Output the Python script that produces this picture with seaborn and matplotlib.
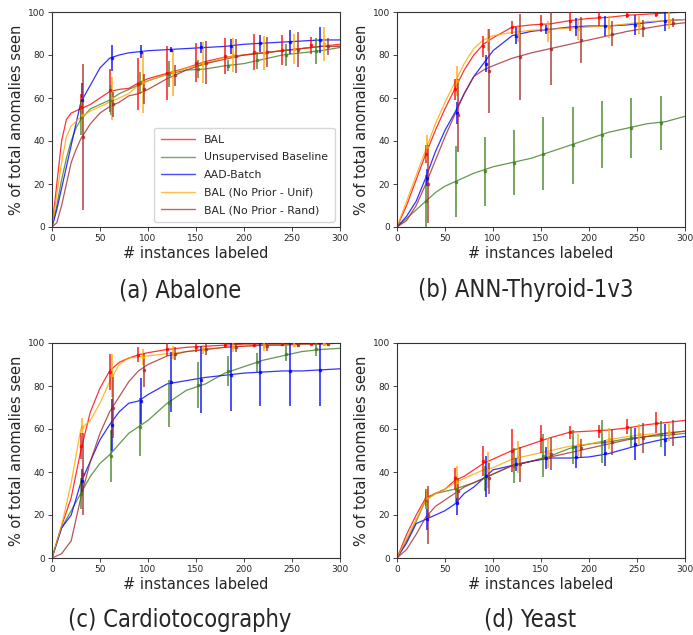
import numpy as np
import pandas as pd
import matplotlib
matplotlib.use("Agg")
import matplotlib.pyplot as plt
import seaborn as sns
from matplotlib.lines import Line2D

# ---------------- data ----------------
series_names = ["BAL", "Unsupervised Baseline", "AAD-Batch",
                "BAL (No Prior - Unif)", "BAL (No Prior - Rand)"]
series_colors = ["red", "#3f7f1f", "blue", "orange", "brown"]
panel_titles = ["(a) Abalone", "(b) ANN-Thyroid-1v3",
                "(c) Cardiotocography", "(d) Yeast"]

x_ticks = [0, 50, 100, 150, 200, 250, 300]
y_ticks = [0, 20, 40, 60, 80, 100]

# x grid of the mean curves
x_a = [0, 5, 10, 15, 20, 25, 30, 40, 50, 60, 70, 80, 90, 100, 120, 140, 160, 180, 200, 220, 240, 260, 280, 300]
x_bcd = [0, 10, 20, 30, 40, 50, 60, 70, 80, 90, 100, 120, 140, 160, 180, 200, 220, 240, 260, 280, 300]

# error bar positions (labels) per series
eb_x_bal = [30, 60, 90, 120, 150, 180, 210, 240, 270]
eb_x_unsup = [30.5, 61, 91.5, 122, 152.5, 183, 213.5, 244, 274.5]
eb_x_aad = [31, 62, 93, 124, 155, 186, 217, 248, 279]
eb_x_unif = [31.5, 63, 94.5, 126, 157.5, 189, 220.5, 252, 283.5]
eb_x_rand = [32, 64, 96, 128, 160, 192, 224, 256, 288]

# (a) Abalone
a_bal = [0, 20, 40, 50, 53, 54, 55, 57, 60, 63, 64, 64.5, 67, 69, 71.5, 74, 77, 79, 80, 81, 82, 83, 84, 85]
a_unsup = [0, 10, 22, 32, 40, 46, 50, 55, 57, 59, 62, 64, 66, 68, 71, 73, 73.5, 75, 76, 78, 80, 81, 82, 83.5]
a_aad = [0, 8, 18, 28, 38, 48, 58, 66, 74, 78.5, 80, 81, 81.5, 82, 82.5, 83, 83.5, 84, 85, 85.5, 86, 86.5, 87, 87]
a_unif = [0, 15, 30, 42, 47, 49, 51, 54, 56, 58, 60, 62, 66, 68, 71, 74, 76, 79, 80, 81, 82, 83, 84, 84.5]
a_rand = [0, 2, 10, 20, 30, 36, 41, 48, 53, 56, 58, 61, 62, 64, 69, 73, 76, 78, 80, 81, 82, 83, 84, 84]
a_eb_bal = [56, 63.5, 66.5, 71.5, 76.5, 79.5, 81.5, 82.5, 84.5]
a_eh_bal = [6, 10, 12, 12.5, 9, 8.5, 8.5, 7, 4]
a_eb_unsup = [51, 59, 67, 71, 73.5, 75, 77.5, 80, 82]
a_eh_unsup = [8, 7, 5, 6, 4, 2.5, 4, 5, 6]
a_eb_aad = [59, 78.5, 81.5, 82.5, 83.5, 84, 85.5, 86, 87]
a_eh_aad = [8, 6, 3, 1, 2.5, 3.5, 4, 5.5, 6]
a_eb_unif = [52, 60, 67.5, 72, 76.5, 80, 81, 83, 85]
a_eh_unif = [8, 10, 14.5, 11, 9.5, 8, 8, 7, 8]
a_eb_rand = [42, 57, 64, 70.5, 76.5, 79.5, 81.5, 82.5, 84]
a_eh_rand = [34, 6, 7, 5, 10, 8, 7, 8, 4]

# (b) ANN-Thyroid-1v3
b_bal = [0, 10, 22, 34, 45, 55, 64, 73, 80, 85, 88, 93, 94, 94.5, 96, 97, 97.5, 98.5, 99, 99.5, 100]
b_unsup = [0, 4, 8, 12, 16, 19, 21, 23, 25, 26.5, 28, 30, 32, 35, 38, 41, 44, 46, 48, 49, 51.5]
b_aad = [0, 5, 12, 23, 35, 45, 53, 62, 70, 76, 82, 89, 91, 92, 93, 93.5, 93.5, 94, 95, 96, 96.5]
b_unif = [0, 12, 24, 36, 48, 58, 67, 76, 83, 87, 89, 90.5, 91.5, 92, 92.5, 93, 93.5, 94.5, 95.5, 96, 96.5]
b_rand = [0, 3, 10, 20, 31, 42, 52, 62, 70, 73, 75, 78.5, 81, 83, 85, 87, 89, 91, 92.5, 94, 95]
b_eb_bal = [34, 64, 84, 93, 94.5, 96, 97.5, 98.5, 99]
b_eh_bal = [4, 5, 5, 3, 4, 5, 4, 1.5, 1.5]
b_eb_unsup = [12, 21, 26, 30, 34, 38, 43, 46, 48.5]
b_eh_unsup = [12, 16.5, 16, 15, 17, 18, 15.5, 14, 12.5]
b_eb_aad = [23, 53, 76, 89, 92, 93, 93.5, 94, 96]
b_eh_aad = [4, 5, 4, 4, 2, 4, 4.5, 4.5, 5]
b_eb_unif = [37, 68, 87, 90, 91, 92, 93, 94, 96]
b_eh_unif = [6, 7, 5, 4, 5, 5, 5, 4, 4]
b_eb_rand = [20, 52, 72.5, 79, 83, 87, 90, 92.5, 95]
b_eh_rand = [18, 17, 19.5, 20, 17, 10.5, 6, 4, 2]

# (c) Cardiotocography
c_bal = [0, 15, 28, 50, 68, 79, 87, 91, 93, 94.5, 95.5, 97, 98, 98.5, 99, 99.5, 99.5, 99.5, 100, 100, 100]
c_unsup = [0, 14, 22, 30, 38, 44, 48, 53, 58, 61, 64, 72, 78, 81, 86, 89, 92, 94, 96, 97, 97.5]
c_aad = [0, 14, 20, 35, 45, 55, 62, 68, 72, 73, 76, 81, 82.5, 84, 85, 86, 86.5, 87, 87, 87.5, 88]
c_unif = [0, 15, 35, 60, 64, 72, 82, 90, 93, 93.5, 94, 95, 96, 97, 98, 98.5, 99, 99, 99.5, 99.5, 100]
c_rand = [0, 2, 8, 28, 45, 58, 68, 75, 82, 87, 90, 94, 96, 97, 98, 98.5, 99, 99, 99.5, 99.5, 100]
c_eb_bal = [52, 86.5, 94.5, 97, 98, 99, 99, 99.5, 99.5]
c_eh_bal = [6, 8.5, 3.5, 3, 2, 1.5, 1, 1, 0.5]
c_eb_unsup = [30, 47.5, 61, 72, 80.5, 87, 91, 95, 97]
c_eh_unsup = [7, 12, 13.5, 11, 10.5, 7, 4.5, 3.5, 3]
c_eb_aad = [36, 62, 73, 82, 83, 85, 86.5, 87, 87.5]
c_eh_aad = [5.5, 12, 10.5, 14, 15.5, 16.5, 16, 16.5, 17]
c_eb_unif = [61, 85, 93.5, 95.5, 97, 98, 98.5, 99, 99.5]
c_eh_unif = [4, 10, 3.5, 3, 2, 2, 2, 1, 1]
c_eb_rand = [39, 70, 87.5, 95, 97, 98, 98.5, 99, 99.5]
c_eh_rand = [19, 14, 8, 3, 2.5, 2, 2, 1, 1]

# (d) Yeast
d_bal = [0, 11, 20, 28, 30, 32, 36, 38, 41, 44, 46, 50, 53, 56, 58.5, 59, 59.5, 60.5, 62, 63, 64]
d_unsup = [0, 8, 17, 27, 30, 31, 32, 33.5, 35, 37, 39, 43, 45, 47.5, 51, 53, 54, 55.5, 56.5, 57, 58]
d_aad = [0, 7, 16, 18, 20, 22, 25, 30, 33, 37, 41, 43, 45, 46.5, 46.5, 47, 48.5, 51, 53.5, 55.5, 56.5]
d_unif = [0, 9, 18, 27, 30, 32, 35, 37, 39, 41, 42, 46, 48, 50, 52, 53, 55, 56.5, 57.5, 58, 59]
d_rand = [0, 4, 11, 19, 24, 27, 30, 33, 35, 37, 39, 43, 45, 47, 49, 51, 53, 55, 56.5, 58, 59]
d_eb_bal = [28, 37, 45, 50, 55.5, 58.5, 59, 61, 63]
d_eh_bal = [4, 5, 7, 10, 6.5, 3, 3, 3.5, 5]
d_eb_unsup = [27, 32, 37, 43, 47.5, 51.5, 54, 56, 57.5]
d_eh_unsup = [4, 6, 6, 8, 10, 8, 10, 5, 6]
d_eb_aad = [18, 25.5, 38, 43.5, 46.5, 47, 49, 53, 55]
d_eh_aad = [5, 5.5, 9.5, 3, 5, 5, 6, 7.5, 7.5]
d_eb_unif = [28, 35.5, 41, 47, 49, 52.5, 55.5, 57.5, 58.5]
d_eh_unif = [4, 7.5, 8.5, 7.5, 7, 5, 5, 5, 4]
d_eb_rand = [20, 31, 37, 43.5, 48.5, 51, 54, 56, 58]
d_eh_rand = [13.5, 6, 7, 8, 7.5, 4.5, 6, 7, 6]

eb_x_all = [eb_x_bal, eb_x_unsup, eb_x_aad, eb_x_unif, eb_x_rand]

panels = [
    (x_a, [a_bal, a_unsup, a_aad, a_unif, a_rand],
     [a_eb_bal, a_eb_unsup, a_eb_aad, a_eb_unif, a_eb_rand],
     [a_eh_bal, a_eh_unsup, a_eh_aad, a_eh_unif, a_eh_rand]),
    (x_bcd, [b_bal, b_unsup, b_aad, b_unif, b_rand],
     [b_eb_bal, b_eb_unsup, b_eb_aad, b_eb_unif, b_eb_rand],
     [b_eh_bal, b_eh_unsup, b_eh_aad, b_eh_unif, b_eh_rand]),
    (x_bcd, [c_bal, c_unsup, c_aad, c_unif, c_rand],
     [c_eb_bal, c_eb_unsup, c_eb_aad, c_eb_unif, c_eb_rand],
     [c_eh_bal, c_eh_unsup, c_eh_aad, c_eh_unif, c_eh_rand]),
    (x_bcd, [d_bal, d_unsup, d_aad, d_unif, d_rand],
     [d_eb_bal, d_eb_unsup, d_eb_aad, d_eb_unif, d_eb_rand],
     [d_eh_bal, d_eh_unsup, d_eh_aad, d_eh_unif, d_eh_rand]),
]

# ---------------- plotting ----------------
sns.set_style("ticks")
plt.rcParams["font.family"] = ["DejaVu Sans"]

fig = plt.figure(figsize=(6.93, 6.35), dpi=100)
W, H = 693, 635
ax_px = [(52, 12), (397, 12), (52, 343), (397, 343)]  # left, top in pixels
aw, ah = 288, 215
cap_pos = [(180, 290), (526, 290), (180, 620), (530, 620)]

for i, (xg, curves, ebm, ebh) in enumerate(panels):
    l, t = ax_px[i]
    ax = fig.add_axes([l / W, 1 - (t + ah) / H, aw / W, ah / H])
    rows = []
    for name, ys in zip(series_names, curves):
        for xv, yv in zip(xg, ys):
            rows.append({"x": xv, "y": yv, "series": name})
    df = pd.DataFrame(rows)
    sns.lineplot(data=df, x="x", y="y", hue="series", hue_order=series_names,
                 palette=series_colors, estimator=None, linewidth=0.9,
                 alpha=0.8, ax=ax, legend=False)
    for k in range(5):
        ax.errorbar(eb_x_all[k], ebm[k], yerr=ebh[k], fmt="s", ms=1.8,
                    color=series_colors[k], elinewidth=1.4, capsize=0,
                    alpha=0.7, zorder=3)
    ax.set_xlim(0, 300)
    ax.set_ylim(0, 100)
    ax.set_xticks(x_ticks)
    ax.set_yticks(y_ticks)
    ax.tick_params(labelsize=6.5, length=3, width=0.6, pad=2)
    for s in ax.spines.values():
        s.set_linewidth(0.8)
        s.set_color("#333333")
    ax.set_xlabel("# instances labeled", fontsize=10.5, labelpad=2)
    ax.set_ylabel("% of total anomalies seen", fontsize=10.5, labelpad=3)
    if i == 0:
        handles = [Line2D([0], [0], color=c, lw=1.0, alpha=0.7) for c in series_colors]
        ax.legend(handles, series_names, loc="lower right", fontsize=7.8,
                  frameon=True, handlelength=3.2, borderpad=0.6,
                  labelspacing=0.7, borderaxespad=0.5)
    cx, cy = cap_pos[i]
    fig.text(cx / W, 1 - cy / H, panel_titles[i], ha="center", va="center",
             fontsize=17, family="DejaVu Sans", fontstretch="condensed")

fig.savefig("out.png", dpi=100)
